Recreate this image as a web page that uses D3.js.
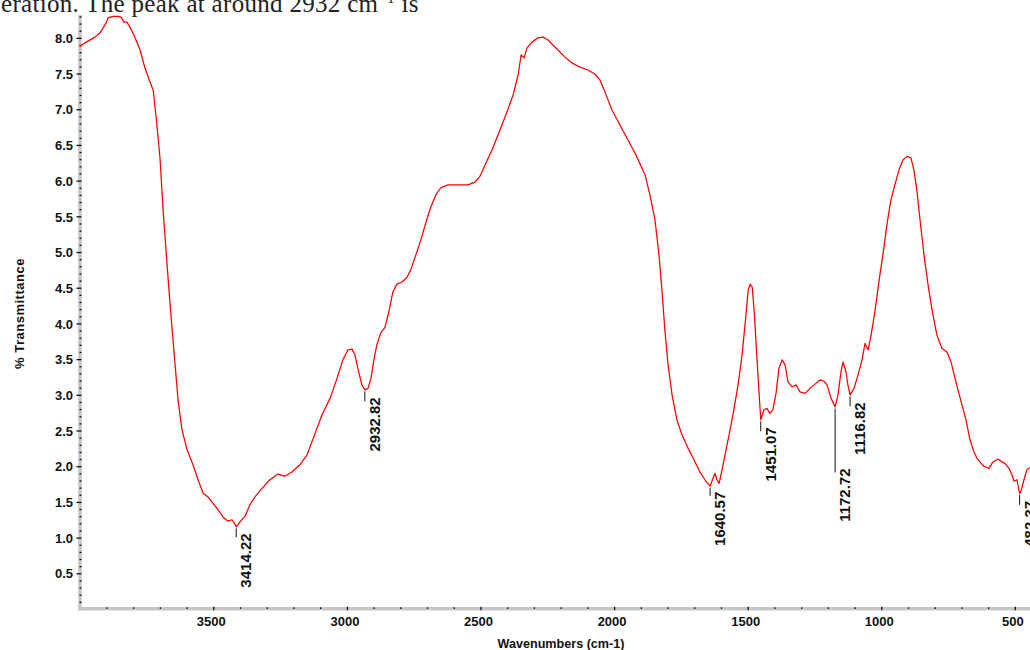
<!DOCTYPE html>
<html>
<head>
<meta charset="utf-8">
<script src="https://cdn.jsdelivr.net/npm/d3@7"></script>
<style>
  html, body { margin: 0; padding: 0; background: #ffffff; overflow: hidden; }
  svg { display: block; }
</style>
</head>
<body>
<svg id="chart" width="1030" height="650"></svg>
<script>
// ---- Data ----
const wavenumbers = [
  4000, 3980, 3943, 3924, 3901, 3894, 3875, 3857, 3845, 3834, 3823, 3812, 3797, 3774, 3756, 3737,
  3725, 3711, 3699, 3688, 3677, 3666, 3654, 3643, 3632, 3617, 3598, 3576, 3557, 3538, 3520, 3501,
  3482, 3464, 3445, 3430, 3419, 3414.22, 3400, 3381, 3363, 3344, 3318, 3288, 3258, 3232, 3206, 3176,
  3149, 3119, 3093, 3063, 3037, 3015, 2996, 2981, 2970, 2959, 2944, 2932.82, 2921, 2910, 2899, 2888,
  2873, 2858, 2843, 2828, 2813, 2794, 2776, 2761, 2742, 2723, 2704, 2686, 2667, 2649, 2622, 2585,
  2547, 2521, 2502, 2483, 2457, 2427, 2401, 2378, 2359, 2348, 2337, 2326, 2307, 2285, 2266, 2247,
  2229, 2210, 2184, 2158, 2128, 2098, 2071, 2053, 2034, 2008, 1978, 1948, 1918, 1884, 1866, 1847,
  1832, 1821, 1810, 1798, 1783, 1765, 1746, 1723, 1701, 1679, 1660, 1640.57, 1630, 1622, 1615, 1607,
  1596, 1581, 1566, 1551, 1536, 1521, 1510, 1498, 1491, 1483, 1476, 1465, 1457, 1451.07, 1439, 1428,
  1417, 1406, 1394, 1383, 1371, 1360, 1349, 1334, 1319, 1304, 1285, 1267, 1248, 1229, 1214, 1203,
  1188, 1172.72, 1162, 1151, 1143, 1132, 1125, 1116.82, 1102, 1087, 1072, 1061, 1049, 1038, 1023, 1008,
  994, 979, 964, 949, 934, 919, 904, 889, 878, 867, 855, 840, 825, 810, 792, 773,
  754, 739, 724, 713, 698, 683, 668, 653, 642, 631, 616, 597, 582, 563, 548, 537,
  522, 511, 503, 492, 482.37, 477, 466, 455, 444
];
const transmittance = [
  7.88, 7.93, 8.01, 8.07, 8.21, 8.28, 8.30, 8.30, 8.29, 8.22, 8.22, 8.15, 8.04, 7.83, 7.58, 7.38,
  7.27, 6.78, 6.29, 5.59, 5.03, 4.47, 3.91, 3.42, 2.93, 2.51, 2.23, 2.02, 1.81, 1.62, 1.57, 1.48,
  1.39, 1.29, 1.23, 1.25, 1.19, 1.15, 1.22, 1.30, 1.46, 1.57, 1.69, 1.81, 1.89, 1.86, 1.92, 2.02,
  2.16, 2.46, 2.72, 2.95, 3.23, 3.49, 3.63, 3.64, 3.56, 3.37, 3.14, 3.07, 3.09, 3.23, 3.49, 3.70,
  3.87, 3.94, 4.16, 4.44, 4.55, 4.58, 4.64, 4.75, 4.96, 5.17, 5.42, 5.63, 5.80, 5.90, 5.94, 5.94,
  5.94, 5.98, 6.06, 6.22, 6.43, 6.71, 6.96, 7.20, 7.48, 7.76, 7.72, 7.86, 7.94, 8.00, 8.01, 7.97,
  7.90, 7.83, 7.73, 7.65, 7.59, 7.55, 7.49, 7.41, 7.24, 6.99, 6.78, 6.57, 6.36, 6.08, 5.80, 5.45,
  4.96, 4.47, 3.91, 3.42, 3.00, 2.65, 2.44, 2.25, 2.09, 1.92, 1.81, 1.72, 1.83, 1.90, 1.81, 1.76,
  1.95, 2.23, 2.51, 2.81, 3.14, 3.56, 3.98, 4.47, 4.55, 4.51, 4.19, 3.49, 3.00, 2.65, 2.79, 2.81,
  2.74, 2.79, 3.02, 3.37, 3.49, 3.42, 3.18, 3.11, 3.14, 3.04, 3.02, 3.09, 3.15, 3.21, 3.19, 3.14,
  2.95, 2.83, 3.00, 3.32, 3.46, 3.32, 3.14, 3.00, 3.09, 3.28, 3.49, 3.72, 3.63, 3.84, 4.19, 4.61,
  4.96, 5.38, 5.73, 5.94, 6.15, 6.29, 6.34, 6.32, 6.15, 5.87, 5.45, 4.96, 4.54, 4.19, 3.84, 3.65,
  3.60, 3.46, 3.23, 3.07, 2.86, 2.65, 2.37, 2.20, 2.11, 2.06, 2.00, 1.97, 2.06, 2.10, 2.06, 2.04,
  1.97, 1.88, 1.79, 1.81, 1.62, 1.65, 1.81, 1.95, 1.98
];
const peakWavenumbers = [3414.22, 2932.82, 1640.57, 1451.07, 1172.72, 1116.82, 482.37];
const peakLabels = ["3414.22", "2932.82", "1640.57", "1451.07", "1172.72", "1116.82", "482.37"];
const yTickValues = [0.5, 1.0, 1.5, 2.0, 2.5, 3.0, 3.5, 4.0, 4.5, 5.0, 5.5, 6.0, 6.5, 7.0, 7.5, 8.0];
const xTickValues = [3500, 3000, 2500, 2000, 1500, 1000, 500];
const xAxisTitle = "Wavenumbers (cm-1)";
const yAxisTitle = "% Transmittance";

// ---- Layout ----
const svg = d3.select("#chart");
const x = d3.scaleLinear().domain([4000, 400]).range([79.7, 1041.6]);
const y = d3.scaleLinear().domain([0, 8.32]).range([609, 15]);
const axisColor = "#c6c6c6";
const tickFont = "'Liberation Sans', Arial, sans-serif";

// caption fragment at top (from surrounding document)
const cap = svg.append("text")
  .attr("x", 1).attr("y", 12)
  .attr("font-family", "'Liberation Serif', 'Times New Roman', serif")
  .attr("font-size", 25).attr("letter-spacing", 0.3).attr("fill", "#222");
cap.append("tspan").text("eration. The peak at around 2932 cm");
cap.append("tspan").attr("dy", -9).attr("font-size", 15).text("−1");
cap.append("tspan").attr("dy", 9).text(" is");

// axis bars
svg.append("line").attr("x1", 80).attr("x2", 80).attr("y1", 15).attr("y2", 610.5)
  .attr("stroke", axisColor).attr("stroke-width", 3.5);
svg.append("line").attr("x1", 78.3).attr("x2", 1030).attr("y1", 608.8).attr("y2", 608.8)
  .attr("stroke", axisColor).attr("stroke-width", 3.5);

// y minor ticks
const yMinor = d3.range(1, 84).map(i => i / 10).filter(v => Math.abs(v * 2 - Math.round(v * 2)) > 1e-6);
svg.append("g").attr("transform", "translate(81.5,0)")
  .call(d3.axisLeft(y).tickValues(yMinor).tickSize(2).tickFormat(""))
  .call(g => g.select(".domain").remove())
  .call(g => g.selectAll("line").attr("stroke", "#111").attr("stroke-width", 1.3));

// y major ticks + labels
svg.append("g").attr("transform", "translate(81.5,0)")
  .call(d3.axisLeft(y).tickValues(yTickValues).tickSize(5).tickPadding(3.5).tickFormat(d3.format(".1f")))
  .call(g => g.select(".domain").remove())
  .call(g => g.selectAll("line").attr("stroke", "#111").attr("stroke-width", 1.3))
  .call(g => g.selectAll("text").attr("font-family", tickFont).attr("font-size", 13)
    .attr("font-weight", "bold").attr("fill", "#111").attr("dy", "0.36em"));

// x minor ticks
const xMinor = d3.range(500, 4000, 100).filter(v => v % 500 !== 0);
svg.append("g").attr("transform", "translate(0,607.3)")
  .call(d3.axisBottom(x).tickValues(xMinor).tickSize(1.6).tickFormat(""))
  .call(g => g.select(".domain").remove())
  .call(g => g.selectAll("line").attr("stroke", "#111").attr("stroke-width", 1.3));

// x major ticks + labels
svg.append("g").attr("transform", "translate(0,606.8)")
  .call(d3.axisBottom(x).tickValues(xTickValues).tickSize(3.5).tickPadding(6).tickFormat(d3.format("d")))
  .call(g => g.select(".domain").remove())
  .call(g => g.selectAll("line").attr("stroke", "#111").attr("stroke-width", 1.3))
  .call(g => g.selectAll("text").attr("font-family", tickFont).attr("font-size", 13)
    .attr("font-weight", "bold").attr("fill", "#111").attr("dx", -2.5));

// axis titles
svg.append("text").attr("x", 561).attr("y", 647.5).attr("text-anchor", "middle")
  .attr("font-family", tickFont).attr("font-size", 12.6).attr("font-weight", "bold")
  .attr("fill", "#111").text(xAxisTitle);
svg.append("text").attr("transform", "translate(23.5,313.5) rotate(-90)")
  .attr("text-anchor", "middle").attr("font-family", tickFont).attr("font-size", 13)
  .attr("font-weight", "bold").attr("letter-spacing", 0.5).attr("fill", "#111").text(yAxisTitle);

// spectrum
const data = wavenumbers.map((w, i) => ({ w, t: transmittance[i] }));
svg.append("path").datum(data)
  .attr("fill", "none").attr("stroke", "#ff0000").attr("stroke-width", 1.25)
  .attr("stroke-linejoin", "round")
  .attr("d", d3.line().x(d => x(d.w)).y(d => y(d.t)));

// peak labels with leader lines
const leaderLengths = [9, 10, 8, 10, 64, 10, 10];
peakWavenumbers.forEach((pw, i) => {
  const idx = wavenumbers.indexOf(pw);
  const px = x(pw);
  const py = y(transmittance[idx]) + 1.5;
  const yEnd = py + leaderLengths[i];
  svg.append("line").attr("x1", px).attr("x2", px).attr("y1", py).attr("y2", yEnd)
    .attr("stroke", "#111").attr("stroke-width", 1);
  svg.append("text")
    .attr("transform", `translate(${px + 15},${yEnd - 4}) rotate(-90)`)
    .attr("text-anchor", "end")
    .attr("font-family", tickFont).attr("font-size", 15).attr("font-weight", "bold")
    .attr("fill", "#111").text(peakLabels[i]);
});
</script>
</body>
</html>
